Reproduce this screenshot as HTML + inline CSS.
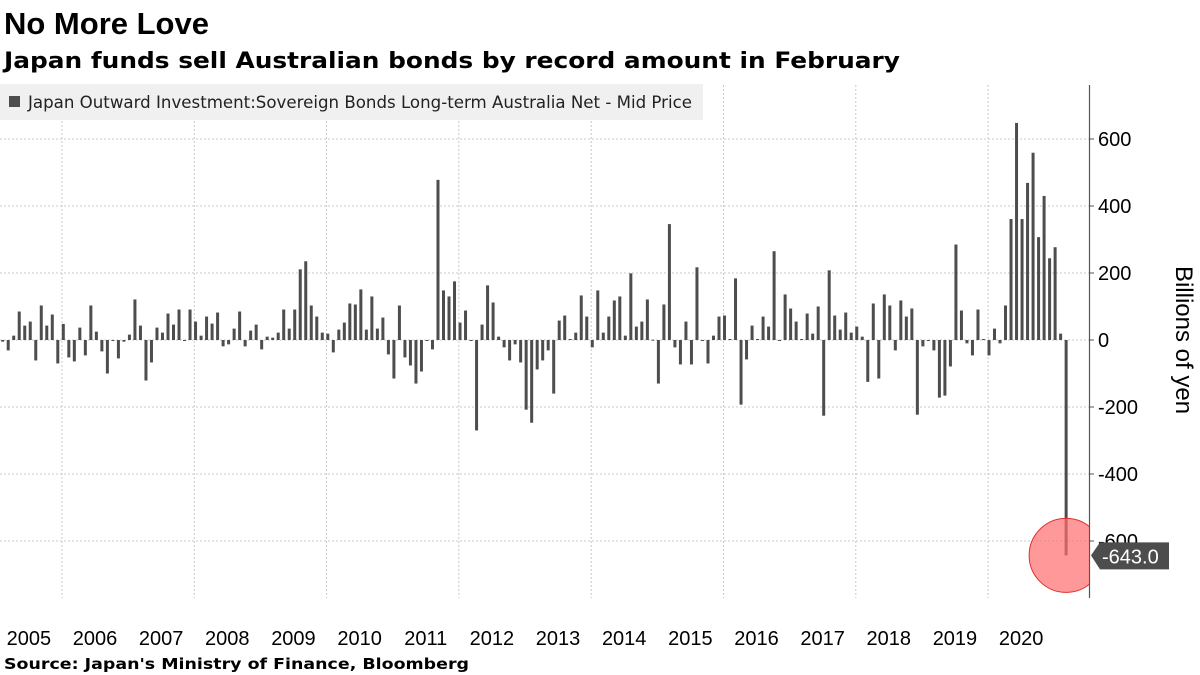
<!DOCTYPE html>
<html><head><meta charset="utf-8"><style>
body{margin:0;background:#fff;}
svg{display:block;font-family:"Liberation Sans","DejaVu Sans",sans-serif;}
</style></head><body>
<svg id="chart" width="1200" height="675" viewBox="0 0 1200 675">
<text x="4" y="34" font-size="31" font-weight="bold" fill="#000">No More Love</text>
<text x="4" y="68" font-size="22.5" font-weight="bold" fill="#000" font-family="DejaVu Sans, sans-serif" textLength="896" lengthAdjust="spacingAndGlyphs">Japan funds sell Australian bonds by record amount in February</text>
<g id="grid"></g>
<g id="bars"></g>
<rect x="0" y="84" width="703" height="36" fill="#f0f0f0"/>
<rect x="9" y="96" width="11" height="11" fill="#4d4d4d"/>
<text x="28" y="108" font-size="16.5" fill="#222" font-family="DejaVu Sans, sans-serif" textLength="664" lengthAdjust="spacingAndGlyphs">Japan Outward Investment:Sovereign Bonds Long-term Australia Net - Mid Price</text>
<line x1="1089.5" y1="85" x2="1089.5" y2="598" stroke="#555" stroke-width="1.2"/>
<g id="yticks"></g>
<g id="xlabels"></g>
<text transform="translate(1176,340) rotate(90)" text-anchor="middle" font-size="24" fill="#000">Billions of yen</text>
<text x="4" y="669" font-size="15.5" font-weight="bold" fill="#000" font-family="DejaVu Sans, sans-serif" textLength="465" lengthAdjust="spacingAndGlyphs">Source: Japan's Ministry of Finance, Bloomberg</text>
<g id="annot"></g>
</svg>
<script>
const years = [2005,2006,2007,2008,2009,2010,2011,2012,2013,2014,2015,2016,2017,2018,2019,2020];
const yTicks = [600,400,200,0,-200,-400,-600];
const values2005_2008 = [-5,-31,13,85,43,55,-61,103,43,76,-70,48, -52,-64,37,-46,103,25,-34,-100,-2,-55,-5,16, 121,43,-121,-67,37,22,79,46,91,0,91,55, 13,70,49,82,-19,-13,34,85,-19,28,46,-28];
const values2009_2012 = [10,7,22,91,34,91,211,235,103,70,22,19, -37,31,52,109,106,151,31,130,34,67,-43,-115, 103,-52,-76,-130,-94,-2,-28,478,148,130,175,52, 88,-3,-270,46,163,112,10,-22,-61,-13,-67,-208];
const values2013_2016 = [-247,-88,-61,-31,-160,58,73,3,22,133,70,-22, 148,22,70,118,130,13,199,40,55,121,1,-130, 106,346,-22,-73,55,-73,217,-2,-70,13,70,73, 3,184,-193,-58,43,3,70,40,265,-2,136,94];
const values2017_2021 = [55,3,79,19,100,-226,208,73,31,82,22,40, 10,-125,109,-115,136,103,-31,118,70,94,-223,-19, -2,-31,-172,-166,-79,285,88,-10,-46,91,3,-46, 34,-10,103,361,648,361,469,559,307,430,244,277, 19,-643];
const values = values2005_2008.concat(values2009_2012, values2013_2016, values2017_2021);

const NS = "http://www.w3.org/2000/svg";
function yScale(v){ return 340 - v*0.335; }
function xMonth(i){ return 2.7 + i*5.51; }
function xYearStart(y){ return 62 + (y-2006)*66.15; }
function mk(tag, attrs, parent){ const e=document.createElementNS(NS,tag); for(const k in attrs) e.setAttribute(k,attrs[k]); parent.appendChild(e); return e; }

const grid = document.getElementById('grid');
yTicks.forEach(t=>{
  const l = mk('line',{x1:0,x2:1089,y1:yScale(t),y2:yScale(t),stroke:'#c8c8c8','stroke-dasharray':'2,2','stroke-width':1},grid);
  
  
});
for(let y=2006;y<=2020;y+=2){
  const l = mk('line',{x1:xYearStart(y),x2:xYearStart(y),y1:85,y2:598,stroke:'#c8c8c8','stroke-dasharray':'2,2','stroke-width':1},grid);
  
  
}
const bars = document.getElementById('bars');
values.forEach((v,i)=>{
  const y0 = yScale(0), y1 = yScale(v);
  const r = mk('rect',{x:xMonth(i)-1.5,y:Math.min(y0,y1),width:3,height:Math.max(1,Math.abs(y1-y0)),fill:'#4d4d4d'},bars);
  
  
});
const yt = document.getElementById('yticks');
yTicks.forEach(t=>{
  const tk = mk('line',{x1:1089,x2:1094,y1:yScale(t),y2:yScale(t),stroke:'#555'},yt);
  
  
  const tx = mk('text',{x:1098,y:yScale(t)+7,'font-size':20,fill:'#000'},yt);
  
  
  tx.textContent = String(t);
});
const xl = document.getElementById('xlabels');
years.forEach(y=>{
  const tx = mk('text',{x:xYearStart(y)+33,y:645,'font-size':20,fill:'#000','text-anchor':'middle'},xl);
  
  
  tx.textContent = String(y);
});
const an = document.getElementById('annot');
const lastI = values.length-1, lastV = values[lastI];
const cp = mk('clipPath',{id:'clipc'},an);
mk('rect',{x:0,y:0,width:1089,height:675},cp);
const c = mk('circle',{cx:xMonth(lastI),cy:yScale(lastV),r:37,fill:'rgba(255,110,110,0.7)',stroke:'#e03030','stroke-width':1,'clip-path':'url(#clipc)'},an);


const ly = yScale(lastV);
const p = mk('path',{d:`M1091 ${ly} L1100 ${ly-13} L1169 ${ly-13} L1169 ${ly+14} L1100 ${ly+14} Z`,fill:'#4d4d4d'},an);


const lt = mk('text',{x:1102,y:ly+8,'font-size':20,fill:'#fff'},an);


lt.textContent = lastV.toFixed(1);
</script>
</body></html>
